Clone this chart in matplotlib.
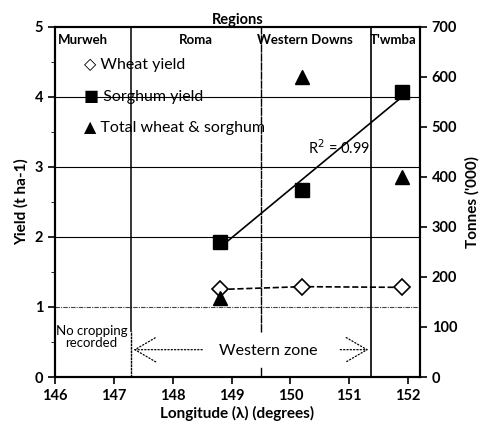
import matplotlib.pyplot as plt
import numpy as np

plt.rcParams['font.family'] = ['Lato', 'DejaVu Sans']

# longitude of each region centre with crop data
longitude = [148.8, 150.2, 151.9]
wheat_yield = [1.25, 1.29, 1.28]
sorghum_yield = [1.93, 2.67, 4.07]
total_tonnes = [157, 600, 400]

# region boundaries (degrees) and labels
boundaries = [147.29, 149.5, 151.37]
region_names = ['Murweh', 'Roma', 'Western Downs', "T'wmba"]
region_pos = [146.48, 148.4, 150.25, 151.75]

fig = plt.figure(figsize=(4.86, 4.26), dpi=100)
ax = fig.add_axes([0.113, 0.115, 0.751, 0.822])
ax2 = ax.twinx()

ax.set_xlim(146, 152.2)
ax.set_ylim(0, 5)
ax2.set_ylim(0, 700)

# horizontal grid
for y in [2, 3, 4]:
    ax.axhline(y, color='black', lw=0.8, zorder=1)
ax.axhline(1, color='#444444', lw=0.8, ls=(0, (4, 1, 1, 1)), zorder=1)

# region boundaries
ax.plot([boundaries[0]] * 2, [0.65, 5], color='black', lw=1.1, zorder=1)
ax.plot([boundaries[0]] * 2, [0, 0.65], color='black', lw=1.0, ls=(0, (2, 0.5)), zorder=1)
ax.plot([boundaries[1]] * 2, [0.64, 5], color='black', lw=1.0, ls=(0, (6, 0.5)), zorder=1)
ax.plot([boundaries[1]] * 2, [0, 0.13], color='black', lw=1.0, zorder=1)
ax.axvline(boundaries[2], color='black', lw=1.2, zorder=1)

# wheat yields, dashed
ax.plot(longitude, wheat_yield, ls='--', color='black', lw=1.2, marker='D',
        markersize=8, mfc='white', mec='black', mew=1.2, zorder=3)

# sorghum with linear trend
ax.plot(longitude, sorghum_yield, ls='none', marker='s', markersize=10.5,
        color='black', zorder=3)
coef = np.polyfit(longitude, sorghum_yield, 1)
fit_x = np.array([longitude[0], longitude[-1]])
ax.plot(fit_x, np.polyval(coef, fit_x), color='black', lw=1.2, zorder=2)
ax.text(151.35, 3.28, 'R$^2$ = 0.99', fontsize=10.5, ha='right', va='center')

# total production on right axis
ax2.plot(longitude, total_tonnes, ls='none', marker='^', markersize=10,
         color='black', zorder=3)

# legend written as plain text lines
leg_items = [('\u25c7', 'Wheat yield', 4.45), ('\u25a0', 'Sorghum yield', 4.0),
             ('\u25b2', 'Total wheat & sorghum', 3.55)]
for sym, label, y in leg_items:
    ax.text(146.5, y, sym + ' ' + label, fontsize=11.5, va='center')

# region names along the top
for name, x in zip(region_names, region_pos):
    ax.text(x, 4.9, name, fontsize=9.5, fontweight='bold', ha='center', va='top')
ax.set_title('Regions', fontsize=10.5, fontweight='bold', pad=2)

# zone annotation
ax.text(146.62, 0.57, 'No cropping\nrecorded', fontsize=9.5, ha='center',
        va='center', linespacing=1.05)
ax.text(149.62, 0.37, 'Western zone', fontsize=11.5, ha='center', va='center')
ax.annotate('', xy=(boundaries[0], 0.39), xytext=(148.55, 0.39),
            arrowprops=dict(arrowstyle='->,head_length=0.6,head_width=0.35',
                            lw=0.9, ls=':', mutation_scale=25))
ax.annotate('', xy=(boundaries[2], 0.39), xytext=(150.8, 0.39),
            arrowprops=dict(arrowstyle='->,head_length=0.6,head_width=0.35',
                            lw=0.9, ls=':', mutation_scale=25))

ax.set_xticks(range(146, 153))
ax.set_yticks(range(0, 6))
ax.set_yticks(np.arange(0.5, 5, 1), minor=True)
ax2.set_yticks(range(0, 701, 100))
ax.tick_params(labelsize=10.5, width=1.2, length=5)
ax.tick_params(which='minor', length=3)
ax2.tick_params(labelsize=10.5, width=1.2, length=5)
for lab in ax.get_xticklabels() + ax.get_yticklabels() + ax2.get_yticklabels():
    lab.set_fontweight('bold')

ax.set_xlabel('Longitude (\u03bb) (degrees)', fontsize=11, fontweight='bold', labelpad=2)
ax.set_ylabel('Yield (t ha-1)', fontsize=11, fontweight='bold', labelpad=4)
ax2.set_ylabel("Tonnes ('000)", fontsize=11, fontweight='bold', labelpad=6)

for sp in ['left', 'bottom', 'right', 'top']:
    ax.spines[sp].set_linewidth(1.5)
    ax2.spines[sp].set_linewidth(1.5)

fig.savefig('out.png', dpi=100)
